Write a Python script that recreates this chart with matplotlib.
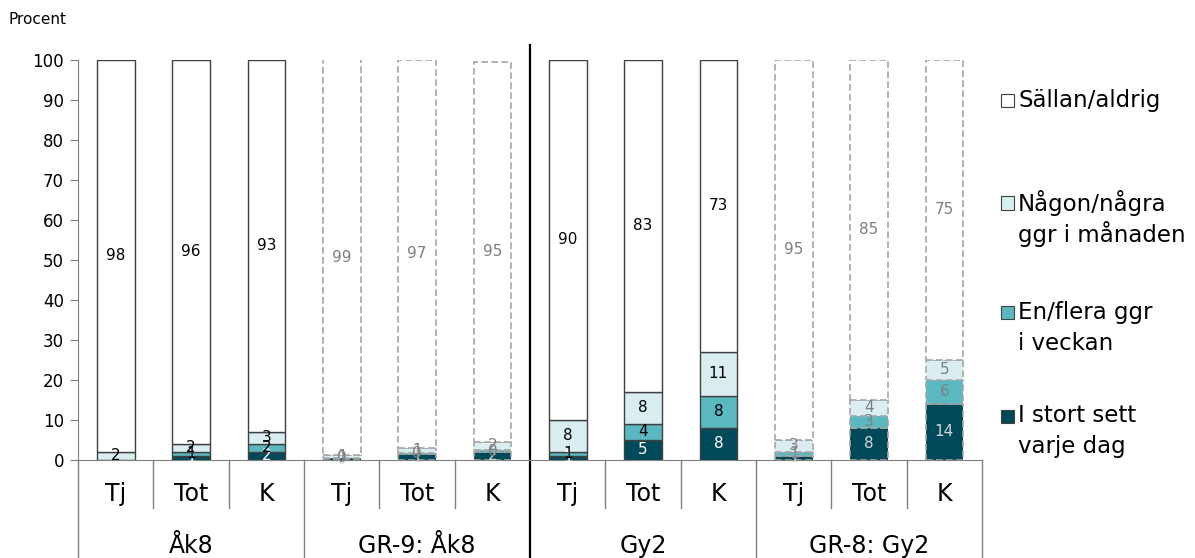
import matplotlib
matplotlib.use('Agg')
import matplotlib.pyplot as plt
from matplotlib.patches import Rectangle

subgroups = ['Tj', 'Tot', 'K'] * 4
groups = ['Åk8', 'GR-9: Åk8', 'Gy2', 'GR-8: Gy2']
daily = [0, 1, 2, 0.4, 1.4, 2, 1, 5, 8, 1, 8, 14]
weekly = [0, 1, 2, 0.2, 0.4, 0.5, 1, 4, 8, 1, 3, 6]
monthly = [2, 2, 3, 0.6, 1.2, 2, 8, 8, 11, 3, 4, 5]
rarely = [98, 96, 93, 99, 97, 95, 90, 83, 73, 95, 85, 75]
compare = [False, False, False, True, True, True, False, False, False, True, True, True]
series = [daily, weekly, monthly, rarely]
names = ['I stort sett\nvarje dag', 'En/flera ggr\ni veckan',
         'Någon/några\nggr i månaden', 'Sällan/aldrig']
colors = ['#00495A', '#5BB8C1', '#DAEEF1', '#FFFFFF']

W, H = 1195, 558
fig = plt.figure(figsize=(W / 100, H / 100), dpi=100)
ax = fig.add_axes([78 / W, 1 - 460 / H, (982 - 78) / W, 400 / H])

x = list(range(len(subgroups)))
bottoms = [0] * len(x)
for k, vals in enumerate(series):
    for i in x:
        if compare[i]:
            ax.bar(i, vals[i], 0.5, bottom=bottoms[i], color=colors[k],
                   edgecolor='#A6A6A6', linestyle=(0, (4, 2)), linewidth=1.2)
            tc = '#D0D6D8' if k == 0 else '#7F7F7F'
        else:
            ax.bar(i, vals[i], 0.5, bottom=bottoms[i], color=colors[k],
                   edgecolor='#404040', linewidth=1)
            tc = 'white' if k == 0 else 'black'
        if vals[i] > 0:
            ax.text(i, bottoms[i] + vals[i] / 2, '%.0f' % vals[i], ha='center',
                    va='center', fontsize=11, color=tc)
        bottoms[i] += vals[i]

ax.set_xlim(-0.5, 11.5)
ax.set_ylim(0, 100)
ax.set_yticks(range(0, 101, 10))
ax.tick_params(axis='y', direction='out', length=6, color='#808080', labelsize=12, pad=4)
ax.set_xticks([])
for s in ['top', 'right']:
    ax.spines[s].set_visible(False)
ax.spines['left'].set_color('#808080')
ax.spines['bottom'].set_color('#808080')

# table under the axis
tr = ax.get_xaxis_transform()
for k in range(13):
    xb = -0.5 + k
    y0 = -0.245 if k % 3 == 0 else -0.12
    if k == 6:
        continue
    ax.plot([xb, xb], [0, y0], transform=tr, color='#808080', lw=1, clip_on=False)
ax.plot([5.5, 5.5], [-0.245, 1.0375], transform=tr, color='black', lw=1.6, clip_on=False)
for i in x:
    ax.text(i, -0.085, subgroups[i], transform=tr, ha='center', va='center', fontsize=17)
for g in range(4):
    ax.text(3 * g + 1, -0.215, groups[g], transform=tr, ha='center', va='center', fontsize=17)

fig.text(8 / W, 1 - 20 / H, 'Procent', ha='left', va='center', fontsize=11)

# legend
leg_y = [416, 312, 203, 100]
for k in range(4):
    y = leg_y[k]
    fig.add_artist(Rectangle((1001 / W, 1 - (y + 6.5) / H), 13 / W, 13 / H,
                             transform=fig.transFigure, facecolor=colors[k],
                             edgecolor='#404040', linewidth=0.8))
    for j, line in enumerate(names[k].split('\n')):
        fig.text(1018 / W, 1 - (y + 31 * j) / H, line, ha='left', va='center',
                 fontsize=16.5)

fig.savefig('out.png', dpi=100)
